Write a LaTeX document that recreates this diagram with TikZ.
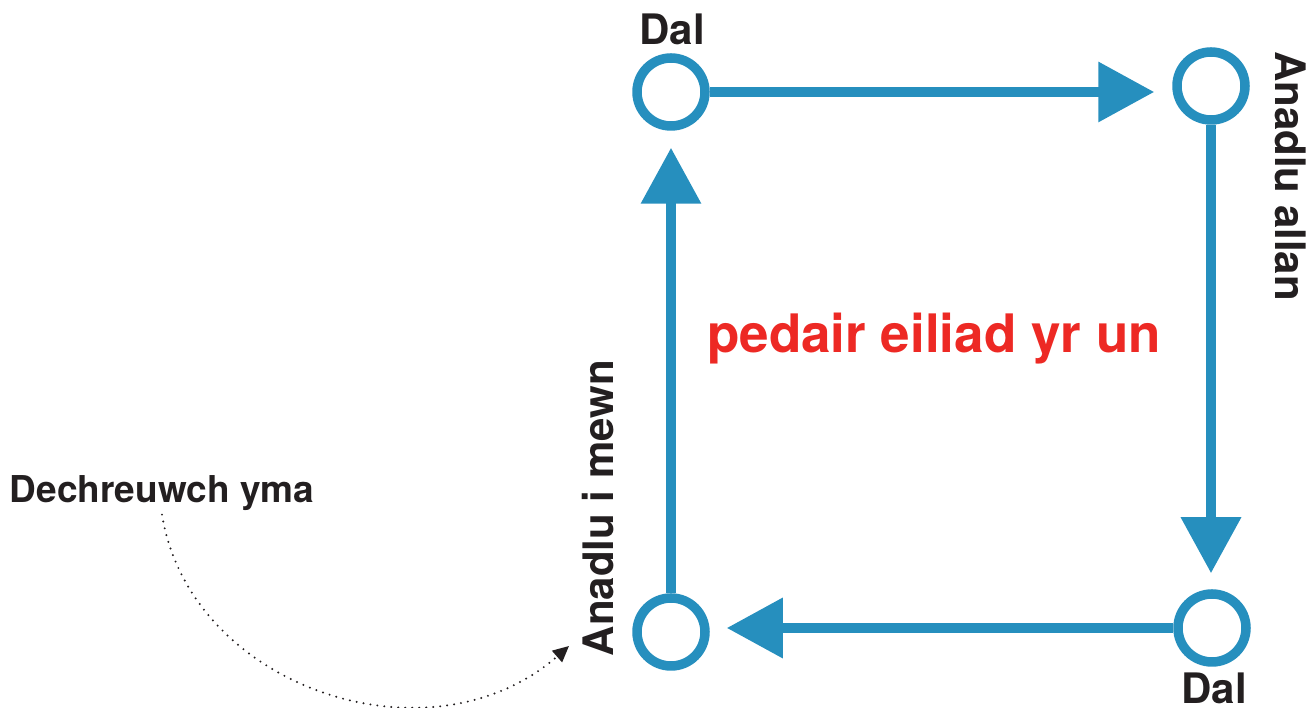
\documentclass[tikz,border=0pt]{standalone}
\usepackage{fontspec}
\setmainfont{TeX Gyre Heros}
\usetikzlibrary{arrows.meta,calc}
\definecolor{anadlblue}{RGB}{38,143,190}
\definecolor{anadlred}{RGB}{237,41,36}
\definecolor{anadlblack}{RGB}{35,31,32}

\begin{document}
\begin{tikzpicture}[x=1pt, y=1pt,
	ring/.style={circle, draw=anadlblue, line width=9.5pt, minimum size=68pt, inner sep=0pt},
	flow/.style={draw=anadlblue, line width=10pt, -{Triangle[length=56pt,width=58pt]}},
	phase/.style={text=anadlblack, font=\fontsize{42}{48}\selectfont\bfseries},
	dots/.style={draw=anadlblack, line width=2.2pt, line cap=round, dash pattern=on 0pt off 7pt, -{Triangle[length=16pt,width=15pt]}}]
	
		\useasboundingbox (0,0) rectangle (1310,708);
		
		%Kreise
		\foreach \n/\x/\y in {start/671/76, dal1/671/616, allan/1211/622, dal2/1212/80} {
			\node[ring] (\n) at (\x,\y) {};
		}
		
		%Pfeile
		\draw[flow, shorten >=17pt] (start.north) -- (start.north |- dal1.south);
		\draw[flow, shorten >=18pt] (dal1.east) -- (dal1.east -| allan.west);
		\draw[flow, shorten >=16pt] (allan.south) -- (allan.south |- dal2.north);
		\draw[flow, shorten >=17pt] (dal2.west) -- (dal2.west -| start.east);
		
		%Beschriftung
		\node[phase, anchor=base] (dal1lbl) at (672,663) {Dal};
		\node[phase, anchor=base, inner sep=0pt] (dal2lbl) at (1214,4) {Dal};
		\node[phase, anchor=base, rotate=-90] (allanlbl) at (1275,532) {Anadlu allan};
		\node[phase, anchor=base, rotate=90] (mewnlbl) at (613,200) {Anadlu i mewn};
		\node[anchor=base, text=anadlred, font=\fontsize{53}{60}\selectfont\bfseries] (unlbl) at (934,355) {pedair eiliad yr un};
		\node[anchor=base, text=anadlblack, font=\fontsize{37}{44}\selectfont\bfseries] (startlbl) at (162,205) {Dechreuwch yma};
		
		%Start
		\coordinate (mewnpt) at (569,62);
		\draw[dots] (startlbl.south) .. controls (190,20) and (430,-60) .. (mewnpt);
	\end{tikzpicture}
\end{document}
